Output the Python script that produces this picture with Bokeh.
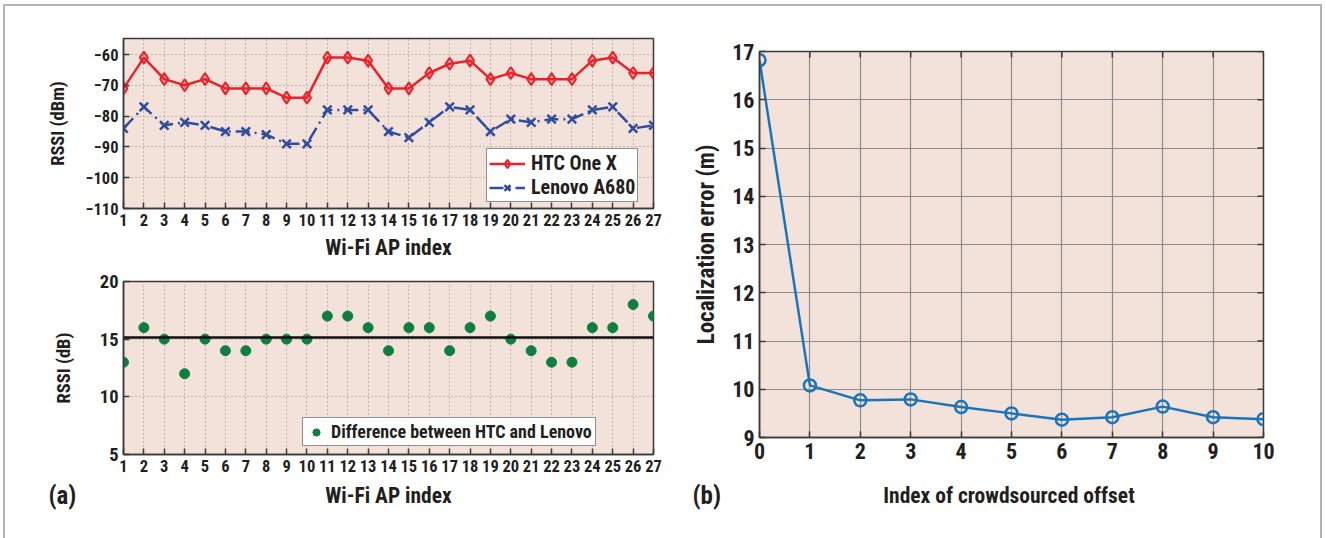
import math
from bokeh.plotting import figure
from bokeh.layouts import row, column
from bokeh.models import FixedTicker, Range1d, Legend, LegendItem, Span
from bokeh.core.properties import value
from bokeh.embed import file_html
from bokeh.resources import INLINE

# ---------------- data ----------------
ap_index = list(range(1, 28))
htc_one_x = [-71, -61, -68, -70, -68, -71, -71, -71, -74, -74, -61, -61, -62, -71,
             -71, -66, -63, -62, -68, -66, -68, -68, -68, -62, -61, -66, -66]
lenovo_a680 = [-84, -77, -83, -82, -83, -85, -85, -86, -89, -89, -78, -78, -78, -85,
               -87, -82, -77, -78, -85, -81, -82, -81, -81, -78, -77, -84, -83]
difference = [13, 16, 15, 12, 15, 14, 14, 15, 15, 15, 17, 17, 16, 14,
              16, 16, 14, 16, 17, 15, 14, 13, 13, 16, 16, 18, 17]
mean_difference = 15.15

offset_index = list(range(0, 11))
loc_error = [16.82, 10.08, 9.77, 9.79, 9.63, 9.50, 9.37, 9.42, 9.64, 9.42, 9.38]

rssi_ticks = [-110, -100, -90, -80, -70, -60]
rssi_tick_labels = ["\u2212110", "\u2212100", "\u221290", "\u221280", "\u221270", "\u221260"]
diff_ticks = [5, 10, 15, 20]
err_ticks = [9, 10, 11, 12, 13, 14, 15, 16, 17]

# ---------------- style ----------------
FONT = "Roboto Condensed, Open Sans Condensed, DejaVu Sans Condensed, Liberation Sans Narrow, Arial Narrow, Roboto"
BG = "#F3E2D9"
TXT = "#231F20"
RED = "#E8232B"
BLUE = "#2F4C9E"
GREEN = "#0E7F41"
LBLUE = "#1A74BA"
FRAME = "#3a3a3a"

OX, OY = 5, 6   # offset of the content inside the grey page frame


def base_style(p, tick_size, label_size):
    p.background_fill_color = BG
    p.border_fill_color = "white"
    p.outline_line_color = FRAME
    p.outline_line_width = 1.5
    for ax in p.axis:
        ax.axis_line_color = FRAME
        ax.axis_line_width = 1.5
        ax.major_tick_in = 6
        ax.major_tick_out = 0
        ax.major_tick_line_color = FRAME
        ax.major_tick_line_width = 1.5
        ax.minor_tick_line_color = None
        ax.major_label_text_font = FONT
        ax.major_label_text_font_style = "bold"
        ax.major_label_text_font_size = tick_size
        ax.major_label_text_color = TXT
        ax.axis_label_text_font = FONT
        ax.axis_label_text_font_style = "bold"
        ax.axis_label_text_font_size = label_size
        ax.axis_label_text_color = TXT
        ax.major_label_standoff = 5


def dotted_grid(p):
    for g in p.grid:
        g.grid_line_color = "#8a8a8a"
        g.grid_line_dash = "1 3"
        g.grid_line_width = 1


# ---------------- top-left: RSSI ----------------
p1 = figure(width=690 - OX, height=262 - OY, output_backend="svg", toolbar_location=None,
            x_range=Range1d(1, 27), y_range=Range1d(-110, -54.8),
            min_border_left=123 - OX, min_border_right=37, min_border_top=38 - OY,
            min_border_bottom=50)
p1.xaxis.ticker = FixedTicker(ticks=ap_index)
p1.yaxis.ticker = FixedTicker(ticks=rssi_ticks)
p1.yaxis.major_label_overrides = {t: l for t, l in zip(rssi_ticks, rssi_tick_labels)}
p1.xaxis.axis_label = "Wi-Fi AP index"
p1.yaxis.axis_label = "RSSI (dBm)"
base_style(p1, "16.5px", "21.5px")
p1.yaxis.axis_label_text_font_size = "18.5px"
p1.yaxis.axis_label_standoff = 14
p1.xaxis.axis_label_standoff = 6
dotted_grid(p1)

l_htc = p1.line(ap_index, htc_one_x, color=RED, line_width=2.5)
m_htc = p1.scatter(ap_index, htc_one_x, marker="diamond", size=12, line_color=RED,
                   line_width=2, fill_color=RED, fill_alpha=0.25)
l_len = p1.line(ap_index, lenovo_a680, color=BLUE, line_width=2.5, line_dash="14 5 2 5")
m_len = p1.scatter(ap_index, lenovo_a680, marker="x", size=12, line_color=BLUE, line_width=2.5)

leg1 = Legend(items=[LegendItem(label="HTC One X", renderers=[l_htc, m_htc]),
                     LegendItem(label="Lenovo A680", renderers=[l_len, m_len])],
              location=(363, 6), padding=2, spacing=0,
              border_line_color="#222", border_line_width=1.5,
              background_fill_color="white", background_fill_alpha=1,
              label_text_font=FONT, label_text_font_style="bold", label_text_font_size="20px",
              label_text_color=TXT, glyph_width=36, glyph_height=21, label_height=21,
              label_standoff=6)
p1.add_layout(leg1)

# ---------------- bottom-left: difference ----------------
p2 = figure(width=690 - OX, height=218, output_backend="svg", toolbar_location=None,
            x_range=Range1d(1, 27), y_range=Range1d(5, 20),
            min_border_left=123 - OX, min_border_right=37, min_border_top=19, min_border_bottom=26)
p2.xaxis.ticker = FixedTicker(ticks=ap_index)
p2.yaxis.ticker = FixedTicker(ticks=diff_ticks)
p2.yaxis.axis_label = "RSSI (dB)"
base_style(p2, "16.5px", "21.5px")
p2.yaxis.major_label_text_font_size = "18.5px"
p2.yaxis.axis_label_text_font_size = "18.5px"
p2.yaxis.axis_label_standoff = 22
dotted_grid(p2)
p2.add_layout(Span(location=mean_difference, dimension="width", line_color="#111", line_width=2.5))
d_pts = p2.scatter(ap_index, difference, marker="circle", size=10, color=GREEN)
leg2 = Legend(items=[LegendItem(label="Difference between HTC and Lenovo", renderers=[d_pts])],
              location=(179, 8), padding=3, spacing=0,
              border_line_color="#222", border_line_width=1.5,
              background_fill_color="white", background_fill_alpha=1,
              label_text_font=FONT, label_text_font_style="bold", label_text_font_size="18px",
              label_text_color=TXT, glyph_width=20, glyph_height=18, label_height=18)
p2.add_layout(leg2)

# ---------------- right: localization error ----------------
p3 = figure(width=630, height=480 - OY, output_backend="svg", toolbar_location=None,
            x_range=Range1d(0, 10), y_range=Range1d(9, 17),
            min_border_left=64, min_border_right=57, min_border_top=51 - OY, min_border_bottom=43)
p3.xaxis.ticker = FixedTicker(ticks=offset_index)
p3.yaxis.ticker = FixedTicker(ticks=err_ticks)
p3.yaxis.axis_label = "Localization error (m)"
base_style(p3, "22px", "23px")
p3.yaxis.axis_label_standoff = 9
for g in p3.grid:
    g.grid_line_color = "#8c8c8c"
    g.grid_line_width = 1.2
# inward ticks on the right and top edges of the box
p3.scatter([offset_index[-1]] * len(err_ticks), err_ticks, marker="dash", size=12,
           line_color=FRAME, line_width=1.5)
p3.scatter(offset_index, [err_ticks[-1]] * len(offset_index), marker="dash", size=12,
           angle=math.pi / 2, line_color=FRAME, line_width=1.5)
p3.line(offset_index, loc_error, color=LBLUE, line_width=2.5)
p3.scatter(offset_index, loc_error, marker="circle", size=12, line_color=LBLUE,
           line_width=2.5, fill_color=None)

# ---------------- footer: panel letters and x-axis titles ----------------
foot = figure(width=1320 - OX, height=58, output_backend="svg", toolbar_location=None,
              x_range=Range1d(OX, 1320), y_range=Range1d(0, 58),
              x_axis_type=None, y_axis_type=None, min_border=0)
foot.outline_line_color = None
foot.grid.visible = False
foot.background_fill_color = "white"
foot.border_fill_color = "white"
txt_kw = dict(text_font=value(FONT), text_font_style="bold", text_color=TXT,
              text_baseline="middle")
foot.text(x=[48], y=[43], text=["(a)"], text_align="left", text_font_size="25px", **txt_kw)
foot.text(x=[388], y=[43], text=["Wi-Fi AP index"], text_align="center",
          text_font_size="21.5px", **txt_kw)
foot.text(x=[692], y=[43], text=["(b)"], text_align="left", text_font_size="25px", **txt_kw)
foot.text(x=[1008.5], y=[43], text=["Index of crowdsourced offset"], text_align="center",
          text_font_size="21.5px", **txt_kw)

layout = column(row(column(p1, p2), p3), foot,
                styles={"margin-left": "3px", "margin-top": "4px",
                        "border-left": "2px solid #b4b4b4", "border-top": "2px solid #b4b4b4",
                        "border-right": "2px solid #b4b4b4"})
open("out.html", "w").write(file_html(layout, INLINE))
